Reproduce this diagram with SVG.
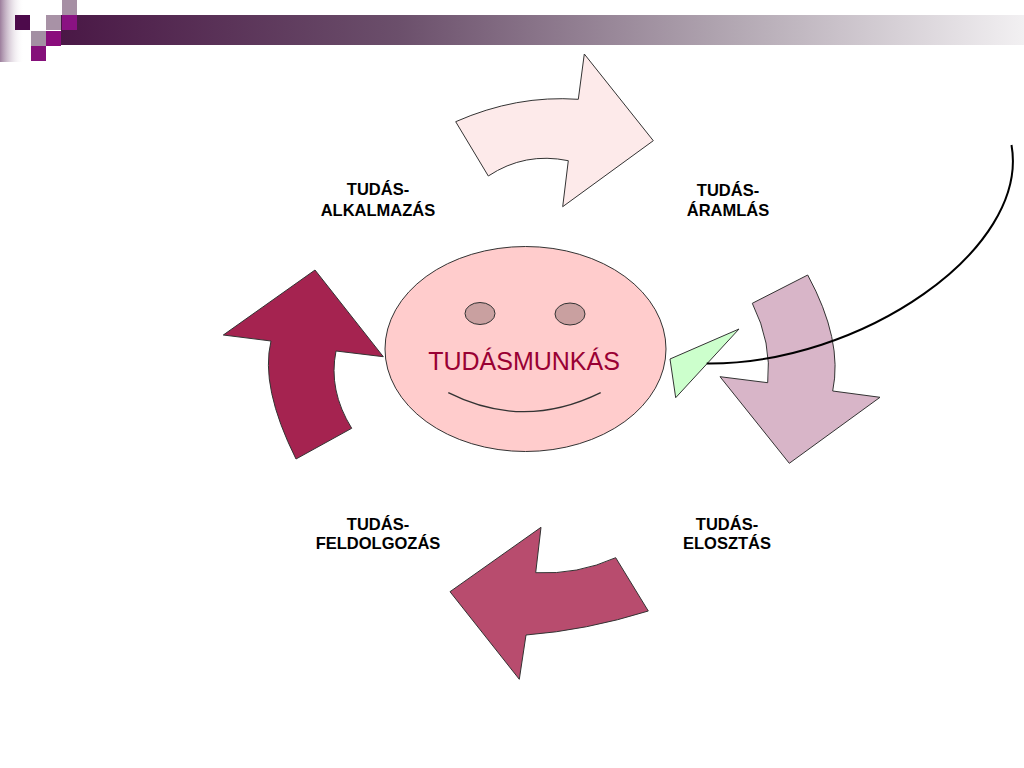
<svg xmlns="http://www.w3.org/2000/svg" width="1024" height="768" viewBox="0 0 1024 768">
<defs>
<linearGradient id="bar" x1="0" y1="0" x2="1" y2="0">
<stop offset="0" stop-color="#4a1846"/>
<stop offset="0.35" stop-color="#6b4f6b"/>
<stop offset="0.7" stop-color="#b3a8b3"/>
<stop offset="1" stop-color="#f2f0f2"/>
</linearGradient>
<linearGradient id="side" x1="0" y1="0" x2="1" y2="0">
<stop offset="0" stop-color="#9c7e9c"/>
<stop offset="1" stop-color="#ffffff" stop-opacity="0"/>
</linearGradient>
<style>
.shape{stroke:#333333;stroke-width:1;stroke-linejoin:miter}
.lbl{font-family:"Liberation Sans",Arial,sans-serif;font-weight:bold;font-size:16.5px;fill:#000;text-anchor:middle}
</style>
</defs>
<rect width="1024" height="768" fill="#ffffff"/>
<g id="decoration">
<rect x="0" y="0" width="24" height="62" fill="url(#side)"/>
<rect x="61" y="15" width="963" height="30" fill="url(#bar)"/>
<rect x="15" y="15" width="15" height="15" fill="#4d0a4b"/>
<rect x="31" y="31" width="15" height="15" fill="#a38fa3"/>
<rect x="31" y="46" width="15" height="15" fill="#85107a"/>
<rect x="46" y="15" width="15" height="15" fill="#a892a6"/>
<rect x="46" y="31" width="15" height="15" fill="#8a0c7c"/>
<rect x="62" y="0" width="15" height="15" fill="#a68fa4"/>
<rect x="62" y="15" width="15" height="15" fill="#8a1282"/>
</g>
<g id="arrow-top">
<path class="shape" fill="#fdeaea" d="M455.7,121.7 Q516.4,94.9 578.3,99.3 L584.3,54 L653.3,140.7 L562.7,206.7 L568.3,160.7 Q525,151.7 488.3,176 Z"/>
</g>
<g id="arrow-right">
<path class="shape" fill="#d8b5c8" d="M807.7,275 Q843.2,340.4 832.7,391 L880,397.3 L789.3,463.3 L720,376.7 L767.7,382.7 Q772,343 752.3,303.3 Z"/>
</g>
<g id="arrow-bottom">
<path class="shape" fill="#b84c6e" d="M450,591.7 L541,527.3 L535.7,572.7 Q577.7,574.8 615.7,557.7 L648.3,611 Q586.2,630.4 526,635 L519.3,679.3 Z"/>
</g>
<g id="arrow-left">
<path class="shape" fill="#a52350" d="M223.3,335 L315,270 L383.3,356.7 L336,351 Q328.1,390.3 351.7,428.3 L296,459 Q259.9,386.6 271,341 Z"/>
</g>
<g id="face">
<ellipse class="shape" cx="525.5" cy="349" rx="140.5" ry="102.5" fill="#ffcccc"/>
<ellipse class="shape" cx="480" cy="313.5" rx="15" ry="11" fill="#c9a0a0"/>
<ellipse class="shape" cx="570" cy="314" rx="15" ry="11" fill="#c9a0a0"/>
<path d="M448.3,392.7 Q523.5,430.7 600.7,392.7" fill="none" stroke="#333333" stroke-width="1.3"/>
<text x="524" y="370" font-family="'Liberation Sans',Arial,sans-serif" font-size="25" fill="#990033" text-anchor="middle">TUDÁSMUNKÁS</text>
</g>
<g id="green-pointer">
<path class="shape" fill="#ccffcc" d="M670,359 L739,329 L675.7,397.7 Z"/>
</g>
<g id="connectors">
<path d="M1011.5,145 C1030,250 860,365 706.7,363.5" fill="none" stroke="#000000" stroke-width="2"/>
</g>
<g id="label-alkalmazas">
<text class="lbl" x="378" y="195">TUDÁS-</text>
<text class="lbl" x="378" y="216">ALKALMAZÁS</text>
</g>
<g id="label-aramlas">
<text class="lbl" x="728" y="196">TUDÁS-</text>
<text class="lbl" x="728" y="216">ÁRAMLÁS</text>
</g>
<g id="label-feldolgozas">
<text class="lbl" x="378" y="530">TUDÁS-</text>
<text class="lbl" x="378" y="549">FELDOLGOZÁS</text>
</g>
<g id="label-elosztas">
<text class="lbl" x="727" y="530">TUDÁS-</text>
<text class="lbl" x="727" y="549">ELOSZTÁS</text>
</g>
</svg>
